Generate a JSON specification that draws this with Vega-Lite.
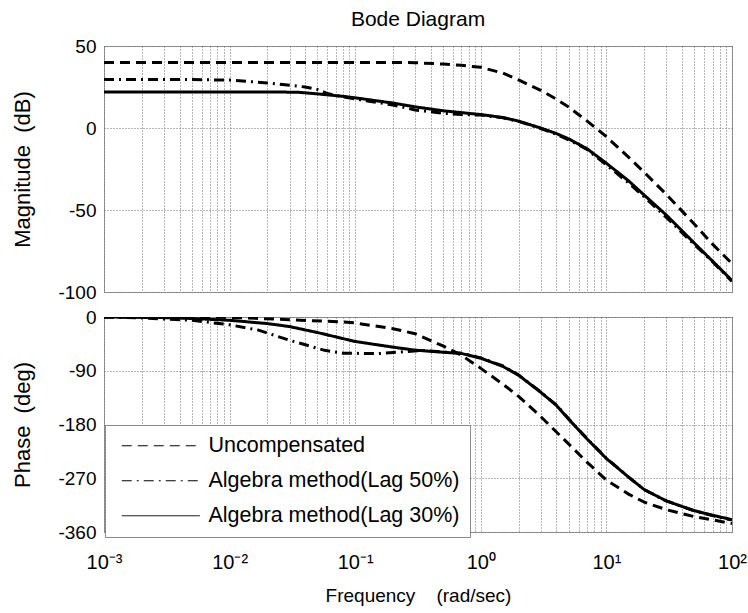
{
  "$schema": "https://vega.github.io/schema/vega-lite/v6.json",
  "padding": {"left": 11, "top": 8, "right": 17, "bottom": 4},
  "spacing": 4,
  "background": "white",
  "config": {
    "font": "Liberation Sans",
    "view": {"stroke": "#9a9a9a", "strokeWidth": 1},
    "axis": {
      "grid": true, "gridColor": "#6e6e6e", "gridDash": [1, 2], "gridWidth": 1, "gridOpacity": 1,
      "ticks": false, "domain": false,
      "labelColor": "#000", "titleColor": "#000",
      "labelFont": "Liberation Sans", "titleFont": "Liberation Sans", "titleFontWeight": "normal"
    }
  },
  "datasets": {
    "mag": [
      {"series": "Uncompensated", "f": 0.001, "db": 40},
      {"series": "Uncompensated", "f": 0.01, "db": 40},
      {"series": "Uncompensated", "f": 0.1, "db": 40},
      {"series": "Uncompensated", "f": 0.2, "db": 40},
      {"series": "Uncompensated", "f": 0.3, "db": 39.8},
      {"series": "Uncompensated", "f": 0.5, "db": 39},
      {"series": "Uncompensated", "f": 0.7, "db": 38.2},
      {"series": "Uncompensated", "f": 1, "db": 37},
      {"series": "Uncompensated", "f": 1.5, "db": 33.5},
      {"series": "Uncompensated", "f": 2, "db": 29.3},
      {"series": "Uncompensated", "f": 3, "db": 23},
      {"series": "Uncompensated", "f": 4, "db": 17.6},
      {"series": "Uncompensated", "f": 5, "db": 12.8},
      {"series": "Uncompensated", "f": 7, "db": 4.3},
      {"series": "Uncompensated", "f": 10, "db": -5.3},
      {"series": "Uncompensated", "f": 15, "db": -17.8},
      {"series": "Uncompensated", "f": 20, "db": -27},
      {"series": "Uncompensated", "f": 30, "db": -40.5},
      {"series": "Uncompensated", "f": 50, "db": -58.5},
      {"series": "Uncompensated", "f": 70, "db": -70.8},
      {"series": "Uncompensated", "f": 100, "db": -82.7},
      {"series": "Algebra method(Lag 50%)", "f": 0.001, "db": 29.5},
      {"series": "Algebra method(Lag 50%)", "f": 0.005, "db": 29.5},
      {"series": "Algebra method(Lag 50%)", "f": 0.01, "db": 29.2},
      {"series": "Algebra method(Lag 50%)", "f": 0.02, "db": 27.5},
      {"series": "Algebra method(Lag 50%)", "f": 0.04, "db": 25},
      {"series": "Algebra method(Lag 50%)", "f": 0.05, "db": 23.5},
      {"series": "Algebra method(Lag 50%)", "f": 0.06, "db": 21},
      {"series": "Algebra method(Lag 50%)", "f": 0.08, "db": 19},
      {"series": "Algebra method(Lag 50%)", "f": 0.1, "db": 17.7},
      {"series": "Algebra method(Lag 50%)", "f": 0.2, "db": 14},
      {"series": "Algebra method(Lag 50%)", "f": 0.3, "db": 11},
      {"series": "Algebra method(Lag 50%)", "f": 0.5, "db": 9},
      {"series": "Algebra method(Lag 50%)", "f": 0.7, "db": 8.2},
      {"series": "Algebra method(Lag 50%)", "f": 1, "db": 7.9},
      {"series": "Algebra method(Lag 50%)", "f": 1.5, "db": 6.2},
      {"series": "Algebra method(Lag 50%)", "f": 2, "db": 4},
      {"series": "Algebra method(Lag 50%)", "f": 3, "db": -0.3},
      {"series": "Algebra method(Lag 50%)", "f": 4, "db": -3.8},
      {"series": "Algebra method(Lag 50%)", "f": 5, "db": -7.2},
      {"series": "Algebra method(Lag 50%)", "f": 7, "db": -13},
      {"series": "Algebra method(Lag 50%)", "f": 10, "db": -22.5},
      {"series": "Algebra method(Lag 50%)", "f": 15, "db": -33.5},
      {"series": "Algebra method(Lag 50%)", "f": 20, "db": -42},
      {"series": "Algebra method(Lag 50%)", "f": 30, "db": -54.5},
      {"series": "Algebra method(Lag 50%)", "f": 50, "db": -71},
      {"series": "Algebra method(Lag 50%)", "f": 70, "db": -81.5},
      {"series": "Algebra method(Lag 50%)", "f": 100, "db": -93.5},
      {"series": "Algebra method(Lag 30%)", "f": 0.001, "db": 22},
      {"series": "Algebra method(Lag 30%)", "f": 0.01, "db": 22},
      {"series": "Algebra method(Lag 30%)", "f": 0.02, "db": 22},
      {"series": "Algebra method(Lag 30%)", "f": 0.035, "db": 21.8},
      {"series": "Algebra method(Lag 30%)", "f": 0.05, "db": 20.8},
      {"series": "Algebra method(Lag 30%)", "f": 0.08, "db": 19.3},
      {"series": "Algebra method(Lag 30%)", "f": 0.1, "db": 18.4},
      {"series": "Algebra method(Lag 30%)", "f": 0.2, "db": 15.2},
      {"series": "Algebra method(Lag 30%)", "f": 0.3, "db": 12.9},
      {"series": "Algebra method(Lag 30%)", "f": 0.5, "db": 10.5},
      {"series": "Algebra method(Lag 30%)", "f": 1, "db": 8.2},
      {"series": "Algebra method(Lag 30%)", "f": 1.5, "db": 6.4},
      {"series": "Algebra method(Lag 30%)", "f": 2, "db": 4.2},
      {"series": "Algebra method(Lag 30%)", "f": 3, "db": 0},
      {"series": "Algebra method(Lag 30%)", "f": 4, "db": -3.4},
      {"series": "Algebra method(Lag 30%)", "f": 5, "db": -6.6},
      {"series": "Algebra method(Lag 30%)", "f": 7, "db": -12.6},
      {"series": "Algebra method(Lag 30%)", "f": 10, "db": -21.5},
      {"series": "Algebra method(Lag 30%)", "f": 15, "db": -32.2},
      {"series": "Algebra method(Lag 30%)", "f": 20, "db": -40.9},
      {"series": "Algebra method(Lag 30%)", "f": 30, "db": -53.1},
      {"series": "Algebra method(Lag 30%)", "f": 50, "db": -70.1},
      {"series": "Algebra method(Lag 30%)", "f": 70, "db": -81.2},
      {"series": "Algebra method(Lag 30%)", "f": 100, "db": -93}
    ],
    "phase": [
      {"series": "Uncompensated", "f": 0.001, "deg": 0},
      {"series": "Uncompensated", "f": 0.01, "deg": -0.5},
      {"series": "Uncompensated", "f": 0.03, "deg": -4.5},
      {"series": "Uncompensated", "f": 0.08, "deg": -8.4},
      {"series": "Uncompensated", "f": 0.1, "deg": -10},
      {"series": "Uncompensated", "f": 0.2, "deg": -19.6},
      {"series": "Uncompensated", "f": 0.3, "deg": -28},
      {"series": "Uncompensated", "f": 0.5, "deg": -48.5},
      {"series": "Uncompensated", "f": 0.7, "deg": -64},
      {"series": "Uncompensated", "f": 1, "deg": -86},
      {"series": "Uncompensated", "f": 1.5, "deg": -112.5},
      {"series": "Uncompensated", "f": 2, "deg": -133},
      {"series": "Uncompensated", "f": 3, "deg": -166.7},
      {"series": "Uncompensated", "f": 5, "deg": -212.5},
      {"series": "Uncompensated", "f": 7, "deg": -243},
      {"series": "Uncompensated", "f": 10, "deg": -273},
      {"series": "Uncompensated", "f": 15, "deg": -296.5},
      {"series": "Uncompensated", "f": 20, "deg": -310},
      {"series": "Uncompensated", "f": 30, "deg": -322.6},
      {"series": "Uncompensated", "f": 50, "deg": -334.3},
      {"series": "Uncompensated", "f": 70, "deg": -339.6},
      {"series": "Uncompensated", "f": 100, "deg": -346},
      {"series": "Algebra method(Lag 50%)", "f": 0.001, "deg": 0},
      {"series": "Algebra method(Lag 50%)", "f": 0.002, "deg": -1.5},
      {"series": "Algebra method(Lag 50%)", "f": 0.005, "deg": -5.6},
      {"series": "Algebra method(Lag 50%)", "f": 0.01, "deg": -13},
      {"series": "Algebra method(Lag 50%)", "f": 0.017, "deg": -22},
      {"series": "Algebra method(Lag 50%)", "f": 0.03, "deg": -39},
      {"series": "Algebra method(Lag 50%)", "f": 0.057, "deg": -55.8},
      {"series": "Algebra method(Lag 50%)", "f": 0.08, "deg": -60.5},
      {"series": "Algebra method(Lag 50%)", "f": 0.15, "deg": -61.4},
      {"series": "Algebra method(Lag 50%)", "f": 0.2, "deg": -59.5},
      {"series": "Algebra method(Lag 50%)", "f": 0.35, "deg": -56},
      {"series": "Algebra method(Lag 50%)", "f": 0.5, "deg": -58.5},
      {"series": "Algebra method(Lag 50%)", "f": 0.7, "deg": -60.5},
      {"series": "Algebra method(Lag 50%)", "f": 1, "deg": -68.5},
      {"series": "Algebra method(Lag 50%)", "f": 1.5, "deg": -82},
      {"series": "Algebra method(Lag 50%)", "f": 2, "deg": -97},
      {"series": "Algebra method(Lag 50%)", "f": 3, "deg": -125.5},
      {"series": "Algebra method(Lag 50%)", "f": 4, "deg": -147.5},
      {"series": "Algebra method(Lag 50%)", "f": 5, "deg": -170.5},
      {"series": "Algebra method(Lag 50%)", "f": 7, "deg": -203.5},
      {"series": "Algebra method(Lag 50%)", "f": 10, "deg": -236.5},
      {"series": "Algebra method(Lag 50%)", "f": 15, "deg": -268},
      {"series": "Algebra method(Lag 50%)", "f": 20, "deg": -289},
      {"series": "Algebra method(Lag 50%)", "f": 30, "deg": -308},
      {"series": "Algebra method(Lag 50%)", "f": 50, "deg": -324.5},
      {"series": "Algebra method(Lag 50%)", "f": 70, "deg": -332.5},
      {"series": "Algebra method(Lag 50%)", "f": 100, "deg": -340},
      {"series": "Algebra method(Lag 30%)", "f": 0.001, "deg": 0},
      {"series": "Algebra method(Lag 30%)", "f": 0.003, "deg": -1},
      {"series": "Algebra method(Lag 30%)", "f": 0.005, "deg": -2.5},
      {"series": "Algebra method(Lag 30%)", "f": 0.01, "deg": -5.5},
      {"series": "Algebra method(Lag 30%)", "f": 0.02, "deg": -11},
      {"series": "Algebra method(Lag 30%)", "f": 0.03, "deg": -16},
      {"series": "Algebra method(Lag 30%)", "f": 0.05, "deg": -26},
      {"series": "Algebra method(Lag 30%)", "f": 0.1, "deg": -41},
      {"series": "Algebra method(Lag 30%)", "f": 0.2, "deg": -50.5},
      {"series": "Algebra method(Lag 30%)", "f": 0.3, "deg": -55.5},
      {"series": "Algebra method(Lag 30%)", "f": 0.5, "deg": -59},
      {"series": "Algebra method(Lag 30%)", "f": 0.7, "deg": -61},
      {"series": "Algebra method(Lag 30%)", "f": 1, "deg": -69},
      {"series": "Algebra method(Lag 30%)", "f": 1.5, "deg": -82.7},
      {"series": "Algebra method(Lag 30%)", "f": 2, "deg": -97.5},
      {"series": "Algebra method(Lag 30%)", "f": 3, "deg": -126},
      {"series": "Algebra method(Lag 30%)", "f": 4, "deg": -148},
      {"series": "Algebra method(Lag 30%)", "f": 5, "deg": -171},
      {"series": "Algebra method(Lag 30%)", "f": 7, "deg": -204},
      {"series": "Algebra method(Lag 30%)", "f": 10, "deg": -237},
      {"series": "Algebra method(Lag 30%)", "f": 15, "deg": -268},
      {"series": "Algebra method(Lag 30%)", "f": 20, "deg": -289},
      {"series": "Algebra method(Lag 30%)", "f": 30, "deg": -308},
      {"series": "Algebra method(Lag 30%)", "f": 50, "deg": -324.3},
      {"series": "Algebra method(Lag 30%)", "f": 70, "deg": -332},
      {"series": "Algebra method(Lag 30%)", "f": 100, "deg": -339.3}
    ]
  },
  "resolve": {"scale": {"strokeDash": "independent"}, "legend": {"strokeDash": "independent"}},
  "vconcat": [
    {
      "title": {"text": "Bode Diagram", "fontSize": 21, "fontWeight": "normal", "frame": "group", "anchor": "middle", "baseline": "alphabetic", "offset": -10, "color": "#000"},
      "width": 628,
      "height": 246,
      "data": {"name": "mag"},
      "mark": {"type": "line", "strokeWidth": 3, "color": "black", "clip": true},
      "encoding": {
        "x": {
          "field": "f", "type": "quantitative",
          "scale": {"type": "log", "domain": [0.001, 100], "nice": false},
          "axis": {"labels": false, "title": null, "minExtent": 0, "maxExtent": 0, "labelPadding": 0,
            "values": [0.001,0.002,0.003,0.004,0.005,0.006,0.007,0.008,0.009,0.01,0.02,0.03,0.04,0.05,0.06,0.07,0.08,0.09,0.1,0.2,0.3,0.4,0.5,0.6,0.7,0.8,0.9,1,2,3,4,5,6,7,8,9,10,20,30,40,50,60,70,80,90,100]}
        },
        "y": {
          "field": "db", "type": "quantitative",
          "scale": {"domain": [-100, 50], "nice": false},
          "axis": {"values": [50, 0, -50, -100], "labelExpr": "toString(datum.value)", "labelFontSize": 19, "labelPadding": 8,
            "title": "Magnitude\u00a0 (dB)", "titleFontSize": 22, "titlePadding": 23}
        },
        "strokeDash": {
          "field": "series", "type": "nominal",
          "scale": {"domain": ["Uncompensated", "Algebra method(Lag 50%)", "Algebra method(Lag 30%)"], "range": [[10, 6], [10, 5, 2, 5], [1, 0]]},
          "legend": null
        }
      }
    },
    {
      "width": 628,
      "height": 215,
      "data": {"name": "phase"},
      "mark": {"type": "line", "strokeWidth": 3, "color": "black", "clip": true},
      "encoding": {
        "x": {
          "field": "f", "type": "quantitative",
          "scale": {"type": "log", "domain": [0.001, 100], "nice": false},
          "axis": {
            "values": [0.001,0.002,0.003,0.004,0.005,0.006,0.007,0.008,0.009,0.01,0.02,0.03,0.04,0.05,0.06,0.07,0.08,0.09,0.1,0.2,0.3,0.4,0.5,0.6,0.7,0.8,0.9,1,2,3,4,5,6,7,8,9,10,20,30,40,50,60,70,80,90,100],
            "labelExpr": "datum.value == 0.001 ? '10⁻³' : datum.value == 0.01 ? '10⁻²' : datum.value == 0.1 ? '10⁻¹' : datum.value == 1 ? '10⁰' : datum.value == 10 ? '10¹' : datum.value == 100 ? '10²' : ''",
            "labelOverlap": false, "labelFlush": false, "labelBound": false,
            "labelFontSize": 20, "labelPadding": 20,
            "title": "Frequency\u00a0\u00a0\u00a0\u00a0(rad/sec)", "titleFontSize": 19, "titlePadding": 14
          }
        },
        "y": {
          "field": "deg", "type": "quantitative",
          "scale": {"domain": [-360, 0], "nice": false},
          "axis": {"values": [0, -90, -180, -270, -360], "labelExpr": "toString(datum.value)", "labelFontSize": 19, "labelPadding": 8,
            "title": "Phase\u00a0 (deg)", "titleFontSize": 22, "titlePadding": 23}
        },
        "strokeDash": {
          "field": "series", "type": "nominal",
          "scale": {"domain": ["Uncompensated", "Algebra method(Lag 50%)", "Algebra method(Lag 30%)"], "range": [[10, 6], [10, 5, 2, 5], [1, 0]]},
          "legend": {
            "orient": "none", "legendX": 1, "legendY": 108, "title": null,
            "symbolType": "M-0.4,0H7.4", "symbolSize": 400, "symbolStrokeWidth": 1, "symbolStrokeColor": "black",
            "labelFontSize": 21.5, "labelColor": "black", "labelLimit": 400, "labelOffset": 72,
            "fillColor": "white", "strokeColor": "#8a8a8a", "padding": 10, "rowPadding": 12
          }
        }
      }
    }
  ]
}
